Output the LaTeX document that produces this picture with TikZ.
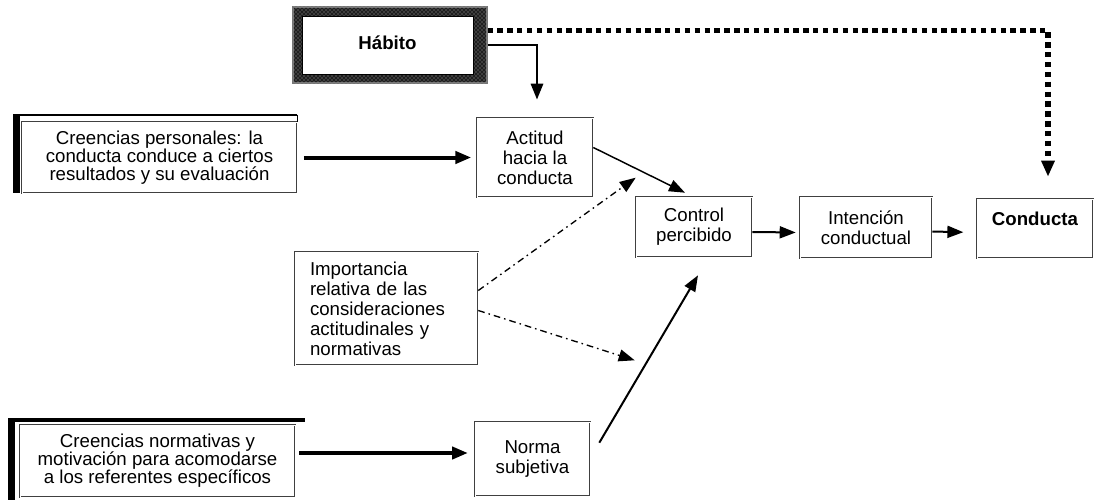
\documentclass[tikz,border=0pt]{standalone}
\usepackage{fontspec}
\setmainfont{Liberation Sans}
\newfontfamily\labfont{Liberation Sans}
\usetikzlibrary{arrows.meta,calc,patterns}

\tikzset{
  box/.style={draw=black!75, line width=0.45pt, double=white, double distance=0.7pt,
    fill=white, align=center, inner sep=0pt,
    font=\labfont\fontsize{14}{15}\selectfont},
  widebox/.style={box, font=\labfont\fontsize{14}{13.6}\selectfont},
  frame/.style={fill=black!88, draw=black!55, line width=0.8pt, inner sep=0pt},
  tip/.style={-{Triangle[length=12pt,width=9pt]}},
  heavy/.style={tip, line width=3pt},
  solid arrow/.style={tip, line width=1.5pt},
  thin arrow/.style={tip, line width=1.1pt},
  dotline/.style={-{Triangle[length=12pt,width=9.5pt]}, line width=4pt,
    dash pattern=on 4pt off 3.4pt},
  dashdot/.style={-{Triangle[length=12pt,width=9pt]}, line width=1pt,
    dash pattern=on 5pt off 3pt on 1.2pt off 3pt},
}

\begin{document}
\begin{tikzpicture}[x=0.75pt, y=-0.75pt]
\useasboundingbox (0,0) rectangle (1096,500);

% Habit box with a heavy speckled frame
\node[frame, minimum width=145.5pt, minimum height=57pt] (habframe) at (390,45) {};
\fill[pattern=crosshatch dots, pattern color=black!35]
  (habframe.south west) rectangle (habframe.north east);
\node[draw=black, line width=0.6pt, fill=white, inner sep=0pt,
      minimum width=128.25pt, minimum height=43.5pt,
      font=\labfont\bfseries\fontsize{14}{15}\selectfont] (hab) at (387.5,45) {\raisebox{4pt}{Hábito}};

% Belief boxes on the left
\node[widebox, minimum width=206.25pt, minimum height=53.25pt] (cp) at (159.5,157.5)
  {Creencias personales: la\\conducta conduce a ciertos\\resultados y su evaluación};
\node[widebox, minimum width=206.25pt, minimum height=54pt] (cn) at (157.5,461)
  {Creencias normativas y\\motivación para acomodarse\\a los referentes específicos};

% Heavy offset edges of the belief boxes
\fill ($(cp.north west)+(-9,-8)$) rectangle ($(cp.south west)+(-2,0)$);
\fill ($(cp.north west)+(-9,-8)$) rectangle ($(cp.north east)+(0,-5.5)$);
\draw[line width=1pt] ($(cp.north east)+(0,-7)$) -- (cp.north east);
\fill ($(cn.north west)+(-12,-7)$) rectangle ($(cn.south west)+(-5,3)$);
\fill ($(cn.north west)+(-12,-7)$) rectangle ($(cn.north east)+(10,-3)$);

% Central boxes
\node[box, minimum width=87pt, minimum height=59.25pt] (act) at (535,157.5)
  {Actitud\\hacia la\\conducta};
\node[box, minimum width=137.25pt, minimum height=84.75pt, align=left,
      text width=114.75pt, inner xsep=11.25pt] (imp) at (386.5,308.5)
  {Importancia\\relativa de las\\consideraciones\\actitudinales y\\normativas};
\node[box, minimum width=86.25pt, minimum height=55.5pt] (nor) at (532.5,459)
  {Norma\\subjetiva};
\node[box, minimum width=87pt, minimum height=45pt] (ctl) at (694,227)
  {Control\\percibido};
\node[box, minimum width=99pt, minimum height=45.75pt] (int) at (866,227.5)
  {Intención\\conductual};
\node[box, minimum width=87pt, minimum height=44.25pt] (con) at (1035,228.5)
  {\textbf{Conducta}\\\phantom{x}};

% Free arrow ends
\coordinate (habtip) at ($(act.north)+(2,-18)$);
\coordinate (dottip) at ($(con.north)+(13,-22)$);
\coordinate (upper) at ($(ctl.north west)+(0,-19)$);
\coordinate (lower) at ($(ctl.south west)+(-1,103)$);

% Connectors
\draw[solid arrow, line width=2.2pt] (habframe.east) -| (habtip);
\draw[dotline] ($(habframe.north east)+(0,24)$) -| (dottip);
\draw[heavy, shorten <=5pt, shorten >=4pt] (cp.east) -- (act.west);
\draw[heavy, shorten <=3pt, shorten >=5pt] ($(cn.east)+(0,-8)$) -- ($(nor.west)+(0,-6)$);
\draw[thin arrow] ($(act.east)+(0,-10)$) -- ($(ctl.north)+(-9,-4)$);
\draw[dashdot] ($(imp.east)+(0,-18)$) -- (upper);
\draw[dashdot] ($(imp.east)+(0,2)$) -- (lower);
\draw[solid arrow] ($(nor.north east)+(9,21)$) -- ($(ctl.south)+(4,18)$);
\draw[solid arrow, shorten >=3pt] ($(ctl.east)+(0,5)$) -- ($(int.west)+(0,5)$);
\draw[solid arrow, shorten >=10pt] ($(int.east)+(0,4)$) -- ($(con.west)+(0,4)$);
\end{tikzpicture}
\end{document}
